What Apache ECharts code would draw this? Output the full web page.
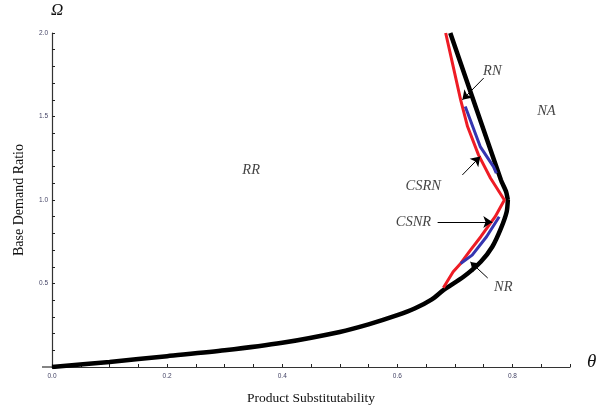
<!DOCTYPE html>
<html>
<head>
<meta charset="utf-8">
<script src="https://cdn.jsdelivr.net/npm/echarts@6/dist/echarts.min.js"></script>
<style>
  html, body { margin: 0; padding: 0; background: #fff; }
  #main { width: 602px; height: 413px; }
</style>
</head>
<body>
<div id="main"></div>
<script>
// boundary curves, [theta, omega]
var blackLower = [
  [0, 0], [0.1, 0.03], [0.2, 0.065], [0.3, 0.1], [0.4, 0.145], [0.5, 0.21],
  [0.55, 0.255], [0.6, 0.31], [0.63, 0.35], [0.66, 0.405], [0.68, 0.46],
  [0.715, 0.54], [0.745, 0.63], [0.765, 0.72], [0.78, 0.83], [0.79, 0.93],
  [0.792, 1.0]
];
var blackUpper = [[0.792, 1.0], [0.789, 1.05], [0.78, 1.12], [0.692, 2.0]];
var redCurve = [
  [0.684, 2.0], [0.697, 1.8], [0.71, 1.6], [0.722, 1.44], [0.741, 1.27],
  [0.762, 1.13], [0.786, 1.0], [0.77, 0.9], [0.745, 0.78], [0.727, 0.7],
  [0.71, 0.62], [0.697, 0.57], [0.68, 0.475]
];
var blueUpper = [[0.718, 1.56], [0.744, 1.32], [0.767, 1.2], [0.772, 1.16]];
var blueLower = [[0.777, 0.9], [0.755, 0.78], [0.73, 0.67], [0.71, 0.62]];

var regionLabels = [
  { name: 'RR', value: [0.346, 1.18] },
  { name: 'NA', value: [0.859, 1.53] },
  { name: 'RN', value: [0.765, 1.77] },
  { name: 'CSRN', value: [0.645, 1.084] },
  { name: 'CSNR', value: [0.628, 0.868] },
  { name: 'NR', value: [0.784, 0.479] }
];
// arrows: tail -> head
var arrows = [
  [[0.75, 1.73], [0.713, 1.60]],
  [[0.713, 1.15], [0.744, 1.26]],
  [[0.670, 0.868], [0.765, 0.868]],
  [[0.757, 0.533], [0.727, 0.629]]
];

var xLabels = [0, 0.2, 0.4, 0.6, 0.8];
var yLabels = [0.5, 1.0, 1.5, 2.0];

var chart = echarts.init(document.getElementById('main'));
var serif = "'Liberation Serif', 'DejaVu Serif', serif";

function isIn(list, v) {
  return list.some(function (l) { return Math.abs(l - v) < 1e-6; });
}

var option = {
  animation: false,
  backgroundColor: '#fff',
  grid: { left: 52, right: 32, top: 33, bottom: 46 },
  xAxis: {
    type: 'value',
    min: 0,
    max: 0.9,
    interval: 0.05,
    name: 'Product Substitutability',
    nameLocation: 'middle',
    nameGap: 24,
    nameTextStyle: { fontFamily: serif, fontSize: 13.5, color: '#111' },
    axisLine: { lineStyle: { color: '#333', width: 1.2 } },
    axisTick: { inside: true, length: 3, lineStyle: { color: '#222' } },
    axisLabel: {
      fontSize: 6.5, color: '#446', margin: 6, fontFamily: 'Arial',
      formatter: function (v) { return isIn(xLabels, v) ? v.toFixed(1) : ''; }
    },
    splitLine: { show: false }
  },
  yAxis: {
    type: 'value',
    min: 0,
    max: 2,
    interval: 0.1,
    name: 'Base Demand Ratio',
    nameLocation: 'middle',
    nameGap: 26,
    nameTextStyle: { fontFamily: serif, fontSize: 14, color: '#111' },
    axisLine: { lineStyle: { color: '#333', width: 1.2 } },
    axisTick: { inside: true, length: 3, lineStyle: { color: '#222' } },
    axisLabel: {
      fontSize: 6.5, color: '#446', margin: 4, fontFamily: 'Arial',
      formatter: function (v) { return isIn(yLabels, v) ? v.toFixed(1) : ''; }
    },
    splitLine: { show: false }
  },
  graphic: [
    { type: 'text', left: 51, top: 2, style: { text: 'Ω', font: 'italic 17px ' + serif, fill: '#111' } },
    { type: 'text', left: 587, top: 352, style: { text: 'θ', font: 'italic 19px ' + serif, fill: '#111' } },
    { type: 'line', shape: { x1: 42, y1: 367, x2: 52, y2: 367 }, style: { stroke: '#333', lineWidth: 1.2 } }
  ],
  series: [
    {
      type: 'line', data: blackLower, showSymbol: false, smooth: 0.25,
      lineStyle: { color: '#000', width: 4.5 }, z: 3
    },
    {
      type: 'line', data: blackUpper, showSymbol: false, smooth: 0.2,
      lineStyle: { color: '#000', width: 4.5 }, z: 3
    },
    {
      type: 'line', data: redCurve, showSymbol: false,
      lineStyle: { color: '#ee1c25', width: 3 }, z: 4
    },
    {
      type: 'line', data: blueUpper, showSymbol: false,
      lineStyle: { color: '#3535b0', width: 3 }, z: 5
    },
    {
      type: 'line', data: blueLower, showSymbol: false,
      lineStyle: { color: '#3535b0', width: 3 }, z: 5
    },
    {
      type: 'scatter', data: regionLabels, symbolSize: 0, z: 6,
      label: {
        show: true, position: 'inside', formatter: '{b}',
        fontFamily: serif, fontStyle: 'italic', fontSize: 14.5, color: '#111',
        textBorderWidth: 0
      },
      markLine: {
        silent: true,
        symbol: ['none', 'arrow'],
        symbolSize: 9,
        label: { show: false },
        lineStyle: { color: '#000', width: 1, type: 'solid' },
        data: arrows.map(function (a) {
          return [{ coord: a[0] }, { coord: a[1] }];
        })
      }
    }
  ]
};

chart.setOption(option);
</script>
</body>
</html>
